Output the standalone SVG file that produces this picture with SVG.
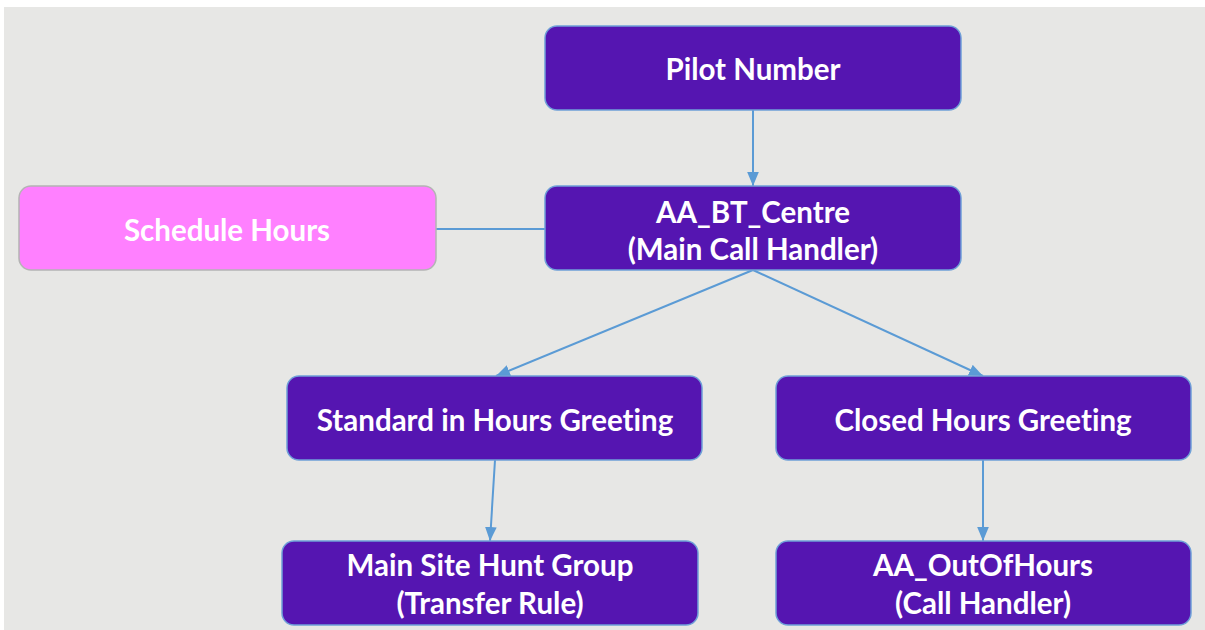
<svg xmlns="http://www.w3.org/2000/svg" width="1205" height="630" viewBox="0 0 1205 630">
<defs>
<style>
.node rect{fill:#5515b1;stroke:#6fa0d8;stroke-width:1.5}
.sched rect{fill:#ff80ff;stroke:#b4b4b4;stroke-width:1.5}
text{font-family:Lato,"Open Sans","Liberation Sans",sans-serif;font-weight:bold;font-size:29.5px;fill:#ffffff;text-anchor:middle;dominant-baseline:central;font-variant-ligatures:none}
.conn{stroke:#5b9bd5;stroke-width:2;fill:none}
</style>
<marker id="arrB" viewBox="0 0 12 10" refX="12" refY="5" markerWidth="14" markerHeight="12" markerUnits="userSpaceOnUse" orient="auto">
<path d="M0,0 L12,5 L0,10 z" fill="#5b9bd5"/>
</marker>
</defs>
<rect x="0" y="0" width="1205" height="630" fill="#ffffff"/>
<rect x="4" y="7" width="1201" height="623" fill="#e7e7e5"/>
<g id="connectors">
<line class="conn" x1="753" y1="110" x2="753" y2="186" marker-end="url(#arrB)"/>
<line class="conn" x1="436" y1="229" x2="545" y2="229"/>
<line class="conn" x1="753" y1="270" x2="496" y2="376" marker-end="url(#arrB)"/>
<line class="conn" x1="753" y1="270" x2="983" y2="376" marker-end="url(#arrB)"/>
<line class="conn" x1="495" y1="460" x2="490" y2="541" marker-end="url(#arrB)"/>
<line class="conn" x1="983" y1="460" x2="983" y2="541" marker-end="url(#arrB)"/>
</g>
<g id="pilot" class="node">
<rect x="545" y="26" width="416" height="84" rx="12"/>
<text x="753" y="68">Pilot Number</text>
</g>
<g id="aa-bt-centre" class="node">
<rect x="545" y="186" width="416" height="84" rx="12"/>
<text x="753" y="211">AA_BT_Centre</text>
<text x="753" y="248">(Main Call Handler)</text>
</g>
<g id="schedule" class="sched">
<rect x="19" y="186" width="417" height="84" rx="12"/>
<text x="227" y="229">Schedule Hours</text>
</g>
<g id="standard" class="node">
<rect x="287" y="376" width="415" height="84" rx="12"/>
<text x="495" y="419">Standard in Hours Greeting</text>
</g>
<g id="closed" class="node">
<rect x="776" y="376" width="415" height="84" rx="12"/>
<text x="983" y="419">Closed Hours Greeting</text>
</g>
<g id="hunt" class="node">
<rect x="282" y="541" width="416" height="84" rx="12"/>
<text x="490" y="564">Main Site Hunt Group</text>
<text x="490" y="602">(Transfer Rule)</text>
</g>
<g id="outofhours" class="node">
<rect x="776" y="541" width="415" height="84" rx="12"/>
<text x="983" y="564">AA_OutOfHours</text>
<text x="983" y="602">(Call Handler)</text>
</g>
</svg>
